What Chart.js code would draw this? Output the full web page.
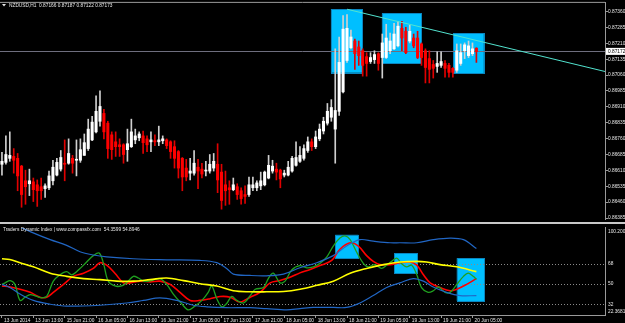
<!DOCTYPE html>
<html>
<head>
<meta charset="utf-8">
<script src="https://cdn.jsdelivr.net/npm/chart.js@4/dist/chart.umd.min.js"></script>
<style>
  html, body { margin: 0; padding: 0; background: #000; }
  #wrap { position: relative; width: 625px; height: 323px; background: #000; overflow: hidden; }
  #main { position: absolute; left: 0; top: 0; }
  #sub { position: absolute; left: 0; top: 222px; }
</style>
</head>
<body>
<div id="wrap">
  <canvas id="main" width="625" height="222"></canvas>
  <canvas id="sub" width="625" height="101"></canvas>
</div>
<script>
// NZDUSD H1 bars (index 0 = first visible bar)
const openP = [0.86639,0.86648,0.86667,0.86676,0.86667,0.86630,0.86561,0.86547,0.86556,0.86542,
  0.86533,0.86524,0.86528,0.86561,0.86588,0.86616,0.86644,0.86644,0.86667,0.86658,
  0.86658,0.86681,0.86713,0.86754,0.86792,0.86842,0.86879,0.86833,0.86778,0.86745,
  0.86731,0.86731,0.86708,0.86722,0.86754,0.86764,0.86773,0.86759,0.86745,0.86750,
  0.86745,0.86750,0.86754,0.86745,0.86722,0.86699,0.86667,0.86621,0.86597,0.86597,
  0.86625,0.86616,0.86607,0.86607,0.86621,0.86639,0.86602,0.86542,0.86528,0.86519,
  0.86533,0.86514,0.86496,0.86496,0.86528,0.86528,0.86537,0.86542,0.86574,0.86607,
  0.86616,0.86611,0.86588,0.86588,0.86607,0.86634,0.86653,0.86667,0.86704,0.86745,
  0.86722,0.86759,0.86796,0.86833,0.86861,0.86805,0.86889,0.86981,0.87129,0.87189,
  0.87221,0.87193,0.87175,0.87147,0.87124,0.87133,0.87161,0.87143,0.87143,0.87175,
  0.87184,0.87198,0.87281,0.87267,0.87221,0.87235,0.87235,0.87207,0.87175,0.87138,
  0.87110,0.87101,0.87106,0.87115,0.87106,0.87092,0.87083,0.87115,0.87175,0.87152,
  0.87161,0.87187];
const highP = [0.86695,0.86773,0.86792,0.86713,0.86690,0.86634,0.86611,0.86616,0.86574,0.86565,
  0.86574,0.86547,0.86607,0.86658,0.86667,0.86704,0.86754,0.86759,0.86681,0.86754,
  0.86759,0.86782,0.86852,0.86865,0.86962,0.86986,0.86898,0.86842,0.86792,0.86792,
  0.86759,0.86736,0.86805,0.86852,0.86805,0.86792,0.86796,0.86773,0.86792,0.86778,
  0.86819,0.86773,0.86759,0.86750,0.86750,0.86704,0.86671,0.86662,0.86667,0.86704,
  0.86662,0.86644,0.86653,0.86685,0.86690,0.86736,0.86639,0.86607,0.86561,0.86574,
  0.86547,0.86528,0.86537,0.86579,0.86579,0.86561,0.86602,0.86607,0.86681,0.86658,
  0.86644,0.86616,0.86611,0.86653,0.86676,0.86745,0.86722,0.86731,0.86768,0.86759,
  0.86796,0.86829,0.86861,0.86926,0.86944,0.87184,0.87240,0.87341,0.87346,0.87272,
  0.87230,0.87221,0.87184,0.87166,0.87166,0.87175,0.87166,0.87254,0.87300,0.87258,
  0.87304,0.87314,0.87314,0.87286,0.87295,0.87254,0.87267,0.87212,0.87184,0.87175,
  0.87129,0.87170,0.87170,0.87129,0.87115,0.87096,0.87207,0.87207,0.87212,0.87221,
  0.87212,0.87189];
const lowP = [0.86588,0.86639,0.86653,0.86597,0.86514,0.86436,0.86450,0.86491,0.86463,0.86440,
  0.86473,0.86482,0.86519,0.86542,0.86584,0.86607,0.86561,0.86639,0.86597,0.86584,
  0.86648,0.86681,0.86704,0.86750,0.86787,0.86819,0.86759,0.86667,0.86662,0.86676,
  0.86676,0.86644,0.86653,0.86718,0.86736,0.86750,0.86690,0.86699,0.86699,0.86727,
  0.86727,0.86736,0.86713,0.86667,0.86621,0.86574,0.86514,0.86561,0.86565,0.86588,
  0.86524,0.86574,0.86584,0.86597,0.86607,0.86505,0.86427,0.86445,0.86450,0.86514,
  0.86473,0.86450,0.86454,0.86487,0.86514,0.86514,0.86519,0.86537,0.86570,0.86597,
  0.86565,0.86528,0.86579,0.86584,0.86602,0.86630,0.86648,0.86658,0.86695,0.86704,
  0.86713,0.86750,0.86782,0.86824,0.86842,0.86644,0.86870,0.86976,0.87120,0.87184,
  0.87087,0.87106,0.87055,0.87055,0.87115,0.87115,0.87083,0.87046,0.87138,0.87161,
  0.87180,0.87193,0.87175,0.87161,0.87212,0.87189,0.87138,0.87106,0.87023,0.87023,
  0.87046,0.87073,0.87096,0.87050,0.87050,0.87050,0.87073,0.87106,0.87138,0.87143,
  0.87152,0.87120];
const closeP = [0.86653,0.86685,0.86681,0.86658,0.86584,0.86496,0.86533,0.86561,0.86519,0.86514,
  0.86514,0.86537,0.86584,0.86625,0.86648,0.86671,0.86639,0.86690,0.86644,0.86662,
  0.86708,0.86741,0.86805,0.86838,0.86889,0.86912,0.86792,0.86713,0.86708,0.86722,
  0.86722,0.86685,0.86736,0.86792,0.86773,0.86782,0.86741,0.86731,0.86754,0.86745,
  0.86754,0.86759,0.86727,0.86699,0.86667,0.86621,0.86579,0.86579,0.86607,0.86644,
  0.86607,0.86593,0.86611,0.86639,0.86653,0.86565,0.86468,0.86514,0.86519,0.86542,
  0.86496,0.86477,0.86487,0.86542,0.86542,0.86551,0.86561,0.86602,0.86634,0.86630,
  0.86602,0.86570,0.86597,0.86625,0.86667,0.86671,0.86681,0.86713,0.86745,0.86722,
  0.86768,0.86805,0.86842,0.86889,0.86907,0.86893,0.87120,0.87277,0.87281,0.87240,
  0.87161,0.87152,0.87106,0.87115,0.87143,0.87157,0.87115,0.87212,0.87235,0.87221,
  0.87254,0.87291,0.87235,0.87166,0.87267,0.87198,0.87143,0.87143,0.87096,0.87087,
  0.87092,0.87115,0.87124,0.87092,0.87073,0.87073,0.87175,0.87166,0.87203,0.87198,
  0.87184,0.87172];

const lastPrice = 0.87172;
const priceTicks = [0.87360,0.87285,0.87210,0.87135,0.87060,0.86985,0.86910,0.86835,
  0.86760,0.86685,0.86610,0.86535,0.86460,0.86385];

// time axis labels, one every 8 bars
const labelBars = [0,8,16,24,32,40,48,56,64,72,80,88,96,104,112,120];
const timeLabels = ['13 Jun 2014','13 Jun 13:00','15 Jun 21:00','16 Jun 05:00','16 Jun 13:00',
  '16 Jun 21:00','17 Jun 05:00','17 Jun 13:00','17 Jun 21:00','18 Jun 05:00','18 Jun 13:00',
  '18 Jun 21:00','19 Jun 05:00','19 Jun 13:00','19 Jun 21:00','20 Jun 05:00'];

// drawn objects: trend line [bar, price], boxes [bar from, bar to, price top, price bottom]
const trendLine = [[88, 0.87371], [153.8, 0.87077]];
const priceBoxes = [[83.9, 91.9, 0.87372, 0.87071], [96.9, 106.9, 0.87351, 0.87116], [115.1, 122.9, 0.87258, 0.87068]];

// Traders Dynamic Index lines [bar, value]
const tdiUpper = [[0,110],[4,102],[7.2,96.9],[12.3,89.7],[16.5,84.6],[19.9,78.9],[23.3,76],[26.7,74.3],
  [33.5,72.6],[42,71.7],[50.5,71.1],[54.8,69.1],[57.3,64],[59,58.9],[63.3,57.7],[67.5,57.4],[71.8,58.9],
  [76,64.6],[80.3,69.1],[84.5,75.4],[87.9,84],[91.3,89.7],[94.7,88.3],[99,86.9],[101.5,86.9],[105.8,86.9],
  [110,89.7],[114.3,91.1],[117.7,89.7],[121,81.7]];
const tdiLower = [[0,49.7],[2,46.9],[4.6,41.1],[8,35.4],[12.3,32],[16.5,30.3],[25,31.1],[31.8,33.1],
  [36.1,35.4],[40.3,37.7],[44.6,35.4],[48.8,31.1],[52.2,29.7],[57.3,28.9],[63.3,28.9],[67.5,28],[72.6,26.9],
  [76,28],[79.4,29.1],[84.5,29.1],[87.9,29.1],[91.3,33.1],[94.7,39.7],[98.1,46.9],[101.5,51.1],[104.9,54.9],
  [107.5,52.6],[110,47.4],[113.4,42.6],[116.8,39.7],[121,39.7]];
const tdiMid = [[0,72.6],[2,72],[4.6,69.1],[8,65.4],[12.3,59.7],[16.5,56.9],[20.8,54.9],[25,54],[29.3,52.6],
  [33.5,52.6],[37.8,54],[42,55.4],[46.3,53.1],[50.5,50.3],[54.8,48.3],[59,44],[63.3,43.1],[67.5,43.1],
  [71.8,43.4],[76,45.4],[80.3,48.9],[84.5,52.6],[88.8,59.7],[93,64],[97.3,67.4],[101.5,69.7],[105.8,70.3],
  [108.3,69.7],[111.7,67.4],[116,65.4],[121,61.1]];
const tdiRsi = [[0,49.7],[0.8,51.1],[2.1,53.1],[3.3,49.7],[4.6,35.4],[5.9,38.3],[7.2,40.6],[8.9,38.9],
  [10.1,37.7],[11.4,38.9],[13.1,52.6],[14.8,58.3],[16.5,61.1],[17.8,58.3],[19.5,62.6],[21.6,69.7],[23.3,75.4],
  [24.8,77.7],[25.9,68.3],[27.1,52.6],[28.8,48.3],[30.5,48.3],[31.8,51.1],[33.5,56.9],[34.8,55.4],[36.1,52.6],
  [38.2,53.1],[40.3,54.9],[42,49.7],[43.7,41.1],[45.8,32.6],[47.5,26.9],[49.2,30.3],[51,35.4],[52.6,42.6],
  [53.5,48.3],[54.8,36.9],[56.1,29.7],[57.3,32.6],[58.6,38.9],[59.9,35.4],[61.6,33.1],[63.3,39.7],[64.6,45.4],
  [66.7,46.9],[68,55.4],[69.2,59.7],[70.9,51.1],[72.2,52.6],[73.9,62.6],[76,66.5],[77.7,64.5],[79.4,65.4],
  [81.1,68.5],[82.8,74],[84.5,84],[86.2,91.1],[87.5,93.1],[88.8,89.7],[90.5,78.3],[92.2,68.3],[93.4,65.4],
  [95.1,67.4],[96.8,64],[98.1,66.9],[99.4,70.3],[100.7,73.1],[101.9,68.3],[103.2,65.4],[104.5,66.9],
  [105.8,58.3],[107,46.9],[108.7,42.6],[110,44],[111.3,47.4],[113,42.6],[114.3,42.6],[116,49.7],[117.7,56.9],
  [118.9,59.7],[120.2,56.9],[121,54.4]];
const tdiSignal = [[0,48.3],[2.1,47.4],[4.6,45.4],[7.2,42.6],[9.7,38.3],[11.4,38.3],[13.1,42.6],[15.7,49.7],
  [18.2,56.9],[20.8,59.7],[23.3,64],[25,69.1],[26.7,66.9],[28.8,59.7],[31,51.1],[32.7,51.1],[35.2,52.6],
  [37.8,52],[40.3,52.6],[42.9,49.7],[45.4,42.6],[48,35.4],[50.5,35.4],[53.1,36.9],[55.6,38.9],[58.2,38.3],
  [60.7,34],[63.3,38.3],[65.8,42.6],[68.4,51.1],[70.9,53.1],[73.5,56],[76,60],[78.6,63],[81.1,66.5],
  [84.1,71.1],[86.2,81.1],[88.8,86.9],[90.9,84],[93,75.4],[94.7,70.3],[96.4,67.4],[99,67.4],[101.5,69.1],
  [104.1,69.7],[105.8,66.9],[107.5,58.3],[109.2,51.1],[111.7,46.9],[114.3,44],[116,45.4],[118.5,49.7],
  [121,54.9]];
const tdiLevels = [32, 50, 68];
const tdiBoxes = [[85, 90.9, 94, 73.1], [100.1, 106, 77.4, 59.7], [116, 123, 73.1, 34.9]];

const FONT = '"Liberation Sans", Arial, sans-serif';
const TXT = '#e6e6e6';
const FRAME = '#9a9a9a';
const BOX_FILL = '#00bfff';
const BOX_EDGE = '#0a86c0';
Chart.defaults.font.family = FONT;
Chart.defaults.font.size = 4.8;
Chart.defaults.animation = false;

const X_MIN = -0.5, X_MAX = 153.8;

function drawBoxes(chart, boxes) {
  const { ctx, scales: { x, y } } = chart;
  ctx.save();
  boxes.forEach(b => {
    const x0 = x.getPixelForValue(b[0]), x1 = x.getPixelForValue(b[1]);
    const y0 = y.getPixelForValue(b[2]), y1 = y.getPixelForValue(b[3]);
    ctx.fillStyle = BOX_FILL;
    ctx.fillRect(x0, y0, x1 - x0, y1 - y0);
    ctx.strokeStyle = BOX_EDGE;
    ctx.lineWidth = 1;
    ctx.strokeRect(Math.round(x0) + 0.5, Math.round(y0) + 0.5, Math.round(x1 - x0), Math.round(y1 - y0));
  });
  ctx.restore();
}

const mainDeco = {
  id: 'mainDeco',
  beforeDatasetsDraw(chart) {
    drawBoxes(chart, priceBoxes);
    const { ctx, chartArea: a, scales: { y } } = chart;
    const py = Math.round(y.getPixelForValue(lastPrice)) + 0.5;
    ctx.save();
    ctx.strokeStyle = '#6e6e7e';
    ctx.lineWidth = 1;
    ctx.beginPath(); ctx.moveTo(a.left, py); ctx.lineTo(a.right, py); ctx.stroke();
    ctx.restore();
  },
  afterDraw(chart) {
    const { ctx, chartArea: a, scales: { y } } = chart;
    ctx.save();
    ctx.strokeStyle = FRAME;
    ctx.lineWidth = 1;
    ctx.beginPath(); ctx.moveTo(0, a.top - 0.5); ctx.lineTo(a.right, a.top - 0.5); ctx.stroke();
    // title
    ctx.fillStyle = TXT;
    ctx.beginPath(); ctx.moveTo(2, 4); ctx.lineTo(6, 4); ctx.lineTo(4, 6.5); ctx.closePath(); ctx.fill();
    ctx.font = '4.8px ' + FONT;
    ctx.textBaseline = 'middle';
    ctx.fillText('NZDUSD,H1  0.87166 0.87187 0.87122 0.87173', 9, 5.5);
    // current price label
    const py = y.getPixelForValue(lastPrice);
    ctx.fillStyle = '#ffffff';
    ctx.fillRect(a.right + 1, py - 3.5, 19, 7);
    ctx.fillStyle = '#000000';
    ctx.fillText(lastPrice.toFixed(5), a.right + 3, py + 0.3);
    ctx.restore();
  }
};

new Chart(document.getElementById('main'), {
  type: 'bar',
  data: {
    datasets: [
      {
        label: 'wicks',
        data: openP.map((o, i) => ({ x: i, y: [lowP[i], highP[i]] })),
        backgroundColor: openP.map((o, i) => closeP[i] >= o ? '#cfcfcf' : '#e00000'),
        barThickness: 1, grouped: false, order: 3
      },
      {
        label: 'bodies',
        data: openP.map((o, i) => ({ x: i, y: [o, closeP[i]] })),
        backgroundColor: openP.map((o, i) => closeP[i] >= o ? '#ffffff' : '#ff0000'),
        barThickness: 2.4, grouped: false, minBarLength: 1, order: 2
      },
      {
        type: 'line', label: 'trend',
        data: trendLine.map(p => ({ x: p[0], y: p[1] })),
        borderColor: '#52e3cf', borderWidth: 1, pointRadius: 0, order: 1
      }
    ]
  },
  options: {
    responsive: false,
    layout: { padding: { top: 1, left: 0, right: 0, bottom: 0 } },
    plugins: { legend: { display: false }, tooltip: { enabled: false } },
    scales: {
      x: {
        type: 'linear', min: X_MIN, max: X_MAX, offset: false, display: false,
        grid: { offset: false }
      },
      y: {
        type: 'linear', position: 'right', min: 0.86380, max: 0.87401,
        afterFit(s) { s.width = 20; },
        afterBuildTicks(s) { s.ticks = priceTicks.map(v => ({ value: v })); },
        ticks: { color: TXT, padding: 0, font: { size: 4.8 }, callback: v => v.toFixed(5) },
        grid: { drawOnChartArea: false, tickLength: 3, color: FRAME },
        border: { display: true, color: FRAME, width: 1 }
      }
    }
  },
  plugins: [mainDeco]
});

const subDeco = {
  id: 'subDeco',
  beforeDatasetsDraw(chart) {
    const { ctx, chartArea: a, scales: { y } } = chart;
    drawBoxes(chart, tdiBoxes);
    ctx.save();
    ctx.strokeStyle = '#8a8a8a';
    ctx.lineWidth = 1;
    ctx.setLineDash([1, 2]);
    tdiLevels.forEach(v => {
      const py = Math.round(y.getPixelForValue(v)) + 0.5;
      ctx.beginPath(); ctx.moveTo(a.left, py); ctx.lineTo(a.right, py); ctx.stroke();
    });
    ctx.restore();
  },
  afterDraw(chart) {
    const { ctx, chartArea: a } = chart;
    ctx.save();
    ctx.fillStyle = '#c8c8c8';
    ctx.fillRect(0, 0, chart.width, 2);
    ctx.fillStyle = TXT;
    ctx.font = '4.8px ' + FONT;
    ctx.textBaseline = 'middle';
    ctx.fillText('Traders Dynamic Index | www.compassfx.com  54.3599 54.8946', 3, 7.5);
    ctx.fillText('100.2000', a.right + 3, a.top + 3.5);
    ctx.fillText('22.3681', a.right + 3, a.bottom - 3);
    ctx.restore();
  }
};

function tdiSet(points, color, width) {
  return {
    data: points.map(p => ({ x: p[0], y: p[1] })),
    borderColor: color, borderWidth: width, pointRadius: 0, tension: 0.35, fill: false
  };
}

new Chart(document.getElementById('sub'), {
  type: 'line',
  data: {
    datasets: [
      tdiSet(tdiUpper, '#2166c4', 1.2),
      tdiSet(tdiLower, '#2166c4', 1.2),
      tdiSet(tdiMid, '#ffff00', 1.6),
      tdiSet(tdiRsi, '#1fa01f', 1.3),
      tdiSet(tdiSignal, '#ff0000', 1.6)
    ]
  },
  options: {
    responsive: false,
    layout: { padding: { top: 2, left: 0, right: 0, bottom: 0 } },
    plugins: { legend: { display: false }, tooltip: { enabled: false } },
    scales: {
      x: {
        type: 'linear', min: X_MIN, max: X_MAX, position: 'bottom',
        afterFit(s) { s.height = 8; },
        afterBuildTicks(s) { s.ticks = labelBars.map(v => ({ value: v })); },
        ticks: {
          color: TXT, align: 'start', labelOffset: 2, padding: 0, maxRotation: 0, minRotation: 0,
          autoSkip: false, font: { size: 4.8 },
          callback: (v, i) => timeLabels[i]
        },
        grid: { drawOnChartArea: false, tickLength: 3, color: FRAME },
        border: { display: true, color: FRAME, width: 1 }
      },
      y: {
        type: 'linear', position: 'right', min: 22.3681, max: 100.2,
        afterFit(s) { s.width = 20; },
        afterBuildTicks(s) { s.ticks = tdiLevels.map(v => ({ value: v })); },
        ticks: { color: TXT, padding: 3, font: { size: 4.8 }, callback: v => String(v) },
        grid: { drawOnChartArea: false, drawTicks: false },
        border: { display: true, color: FRAME, width: 1 }
      }
    }
  },
  plugins: [subDeco]
});
</script>
</body>
</html>
